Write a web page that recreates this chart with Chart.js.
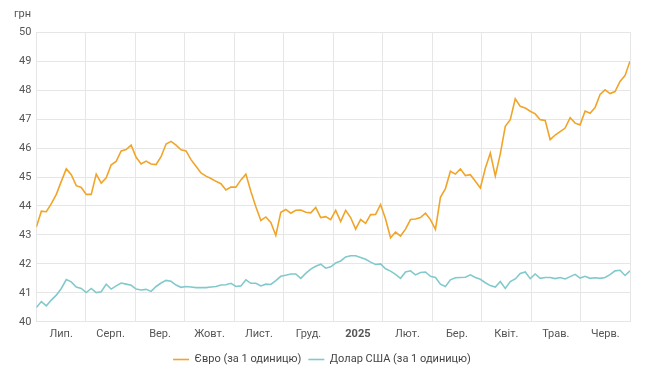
<!DOCTYPE html>
<html>
<head>
<meta charset="utf-8">
<script src="https://cdn.jsdelivr.net/npm/chart.js@4.4.1/dist/chart.umd.min.js"></script>
<style>
  html, body { margin: 0; padding: 0; background: #fff; }
  #wrap { width: 650px; height: 383px; }
</style>
</head>
<body>
<div id="wrap"><canvas id="rates"></canvas></div>
<script>
// month labels shown under the x axis
var month_labels = ['Лип.', 'Серп.', 'Вер.', 'Жовт.', 'Лист.', 'Груд.', '2025', 'Лют.', 'Бер.', 'Квіт.', 'Трав.', 'Черв.'];

var y_ticks = [40, 41, 42, 43, 44, 45, 46, 47, 48, 49, 50];

// EUR/UAH (about every 3 days)
var eur_values = [
  43.27, 43.82, 43.80, 44.08, 44.40, 44.85, 45.28, 45.08, 44.70, 44.64,
  44.40, 44.40, 45.10, 44.79, 44.97, 45.42, 45.54, 45.90, 45.95, 46.10,
  45.68, 45.45, 45.55, 45.45, 45.43, 45.70, 46.14, 46.23, 46.10, 45.94,
  45.90, 45.60, 45.37, 45.14, 45.03, 44.95, 44.85, 44.77, 44.55, 44.65,
  44.65, 44.90, 45.10, 44.50, 43.97, 43.50, 43.62, 43.43, 42.98, 43.78,
  43.88, 43.75, 43.85, 43.86, 43.78, 43.76, 43.95, 43.60, 43.63, 43.53,
  43.85, 43.46, 43.85, 43.60, 43.20, 43.53, 43.40, 43.70, 43.71, 44.05,
  43.55, 42.90, 43.10, 42.96, 43.20, 43.53, 43.55, 43.60, 43.75, 43.53,
  43.19, 44.30, 44.60, 45.20, 45.10, 45.28, 45.05, 45.08, 44.85, 44.62,
  45.30, 45.83, 45.03, 45.80, 46.75, 46.98, 47.70, 47.44, 47.38, 47.27,
  47.18, 46.98, 46.95, 46.29, 46.45, 46.57, 46.69, 47.05, 46.86, 46.80,
  47.28, 47.20, 47.40, 47.85, 48.01, 47.88, 47.95, 48.30, 48.50, 49.00
];

// USD/UAH, same dates
var usd_values = [
  40.49, 40.70, 40.55, 40.75, 40.92, 41.15, 41.46, 41.38, 41.20, 41.15,
  41.01, 41.15, 41.01, 41.04, 41.30, 41.13, 41.24, 41.34, 41.30, 41.26,
  41.13, 41.10, 41.12, 41.05, 41.22, 41.34, 41.43, 41.40, 41.27, 41.19,
  41.22, 41.20, 41.18, 41.18, 41.18, 41.20, 41.22, 41.27, 41.28, 41.33,
  41.22, 41.24, 41.45, 41.33, 41.33, 41.24, 41.30, 41.29, 41.42, 41.57,
  41.61, 41.65, 41.65, 41.50, 41.67, 41.82, 41.92, 41.99, 41.85, 41.90,
  42.03, 42.10, 42.24, 42.28, 42.28, 42.22, 42.16, 42.06, 41.98, 42.00,
  41.83, 41.75, 41.64, 41.50, 41.72, 41.76, 41.62, 41.70, 41.72, 41.57,
  41.53, 41.30, 41.22, 41.45, 41.52, 41.53, 41.54, 41.62, 41.53, 41.47,
  41.35, 41.25, 41.20, 41.39, 41.15, 41.39, 41.48, 41.67, 41.72, 41.49,
  41.65, 41.50, 41.53, 41.53, 41.49, 41.53, 41.48, 41.56, 41.64, 41.51,
  41.57, 41.50, 41.52, 41.50, 41.53, 41.63, 41.76, 41.78, 41.60, 41.76
];

var series_names = ['Євро (за 1 одиницю)', 'Долар США (за 1 одиницю)'];
var unit_label = 'грн';

function to_points(values)
{
  return values.map((v, i) => ({ x: i, y: v }));
}

var font_family = "Roboto, 'Noto Sans', sans-serif";
var grid_color = '#e6e6e6';
var text_color = '#555';

var rates_chart = new Chart(document.getElementById('rates'), {
  type: 'line',
  data: {
    datasets: [{
        data: to_points(eur_values),
        label: series_names[0],
        borderColor: '#f0a52a',
        backgroundColor: '#f0a52a',
        borderWidth: 1.6,
        pointRadius: 0,
        tension: 0,
        fill: false,
        xAxisID: 'xi'
      }, {
        data: to_points(usd_values),
        label: series_names[1],
        borderColor: '#82c9cc',
        backgroundColor: '#82c9cc',
        borderWidth: 1.6,
        pointRadius: 0,
        tension: 0,
        fill: false,
        xAxisID: 'xi'
      }
    ]
  },
  options: {
    animation: false,
    responsive: true,
    maintainAspectRatio: false,
    layout: { padding: { left: 14, right: 20, top: 8, bottom: 8 } },
    scales: {
      // visible month axis: labels sit between the grid lines
      x: {
        type: 'category',
        labels: month_labels,
        offset: true,
        grid: { offset: true, color: grid_color, drawTicks: false },
        border: { display: false },
        ticks: {
          color: text_color,
          padding: 6,
          maxRotation: 0,
          font: (ctx) => ({
            family: font_family,
            size: 11,
            weight: (ctx.tick && ctx.tick.label === '2025') ? 'bold' : 'normal'
          })
        }
      },
      // hidden index axis that places the daily points
      xi: {
        type: 'linear',
        display: false,
        min: 0,
        max: eur_values.length - 1
      },
      y: {
        min: y_ticks[0],
        max: y_ticks[y_ticks.length - 1],
        afterBuildTicks: (scale) => { scale.ticks = y_ticks.map(v => ({ value: v })); },
        grid: { color: grid_color, drawTicks: false },
        border: { display: false },
        ticks: {
          color: text_color,
          padding: 5,
          font: { family: font_family, size: 11 }
        }
      }
    },
    plugins: {
      title: {
        display: true,
        text: unit_label,
        align: 'start',
        color: text_color,
        font: { family: font_family, size: 11, weight: 'normal' },
        padding: { top: 0, bottom: 11 }
      },
      legend: {
        position: 'bottom',
        labels: {
          usePointStyle: true,
          pointStyle: 'line',
          pointStyleWidth: 16,
          color: '#444',
          padding: 7,
          font: { family: font_family, size: 11 }
        }
      },
      tooltip: { enabled: false }
    }
  }
});
</script>
</body>
</html>
